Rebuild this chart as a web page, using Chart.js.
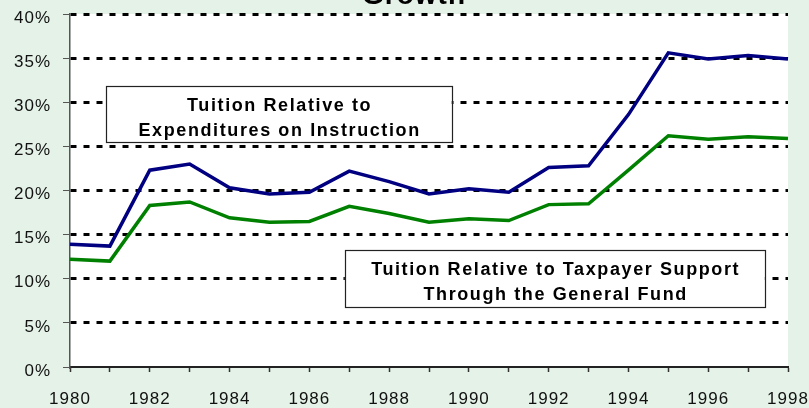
<!DOCTYPE html>
<html>
<head>
<meta charset="utf-8">
<script src="https://cdn.jsdelivr.net/npm/chart.js@4.4.1/dist/chart.umd.min.js"></script>
<style>
  html, body { margin: 0; padding: 0; background: #e4f2e7; }
  #wrap { width: 809px; height: 408px; }
</style>
</head>
<body>
<div id="wrap"><canvas id="c" width="809" height="408"></canvas></div>
<script>
// ---- data ----
const years = ['1980','1981','1982','1983','1984','1985','1986','1987','1988','1989',
               '1990','1991','1992','1993','1994','1995','1996','1997','1998'];
const tuitionVsInstruction = [13.9, 13.7, 22.3, 23.0, 20.3, 19.6, 19.8, 22.2, 21.0, 19.6,
                              20.2, 19.8, 22.6, 22.8, 28.6, 35.6, 34.9, 35.3, 34.9];
const tuitionVsGeneralFund = [12.2, 12.0, 18.3, 18.7, 16.9, 16.4, 16.5, 18.2, 17.4, 16.4,
                              16.8, 16.6, 18.4, 18.5, 22.3, 26.2, 25.8, 26.1, 25.9];
const yMin = 0, yMax = 40, yStep = 5;
const chartTitle = 'Growth';
const labelInstruction = ['Tuition Relative to', 'Expenditures on Instruction'];
const labelGeneralFund = ['Tuition Relative to Taxpayer Support', 'Through the General Fund'];

const FONT = '"Liberation Sans", Arial, sans-serif';

// annotation boxes placed in data coordinates (x = category index, y = percent)
const boxes = [
  { lines: labelInstruction, x0: 0.9, x1: 9.57, y0: 31.85, y1: 25.5 },
  { lines: labelGeneralFund, x0: 6.89, x1: 17.42, y0: 13.3, y1: 6.85 }
];

const backgroundPlugin = {
  id: 'bg',
  beforeDraw(chart) {
    const { ctx, chartArea: a } = chart;
    ctx.save();
    ctx.fillStyle = '#e4f2e7';
    ctx.fillRect(0, 0, chart.width, chart.height);
    ctx.fillStyle = '#ffffff';
    ctx.fillRect(a.left, a.top, a.right - a.left, a.bottom - a.top);
    ctx.restore();
    ctx.letterSpacing = '1px';
  }
};

const annotationPlugin = {
  id: 'boxes',
  afterDatasetsDraw(chart) {
    const { ctx, scales: { x, y } } = chart;
    ctx.save();
    boxes.forEach(b => {
      const l = x.getPixelForValue(b.x0), r = x.getPixelForValue(b.x1);
      const t = y.getPixelForValue(b.y0), bt = y.getPixelForValue(b.y1);
      ctx.fillStyle = '#ffffff';
      ctx.fillRect(l, t, r - l, bt - t);
      ctx.strokeStyle = '#222';
      ctx.lineWidth = 1.2;
      ctx.strokeRect(Math.round(l) + 0.5, Math.round(t) + 0.5, Math.round(r - l), Math.round(bt - t));
      ctx.fillStyle = '#000';
      ctx.font = 'bold 18px ' + FONT;
      ctx.letterSpacing = '1.6px';
      ctx.textAlign = 'center';
      ctx.textBaseline = 'alphabetic';
      const cx = (l + r) / 2 + 0.8;
      ctx.fillText(b.lines[0], cx, t + 25.5);
      ctx.fillText(b.lines[1], cx, t + 50.5);
    });
    ctx.restore();
    ctx.letterSpacing = '1px';
  },
  afterDraw(chart) {
    const { ctx } = chart;
    ctx.save();
    ctx.font = 'bold 28px ' + FONT;
    ctx.letterSpacing = '1px';
    ctx.fillStyle = '#000';
    ctx.textAlign = 'center';
    ctx.textBaseline = 'alphabetic';
    ctx.fillText(chartTitle, 414, 4);
    ctx.restore();
  }
};

new Chart(document.getElementById('c'), {
  type: 'line',
  data: {
    labels: years,
    datasets: [
      { label: labelInstruction.join(' '), data: tuitionVsInstruction,
        borderColor: '#000080', borderWidth: 3.5, pointRadius: 0, tension: 0, fill: false },
      { label: labelGeneralFund.join(' '), data: tuitionVsGeneralFund,
        borderColor: '#008000', borderWidth: 3.5, pointRadius: 0, tension: 0, fill: false }
    ]
  },
  options: {
    responsive: false,
    animation: false,
    events: [],
    layout: { padding: { top: 14, right: 21, left: 0, bottom: 0 } },
    plugins: { legend: { display: false }, title: { display: false }, tooltip: { enabled: false } },
    scales: {
      x: {
        type: 'category',
        offset: false,
        afterFit(s) { s.height = 41; s.paddingLeft = 0; s.paddingRight = 0; },
        grid: { drawOnChartArea: false, drawTicks: true, tickLength: 5, tickColor: '#333', tickWidth: 1.5 },
        border: { display: true, color: '#222', width: 2 },
        ticks: {
          autoSkip: false, maxRotation: 0, minRotation: 0, padding: 17,
          color: '#111', font: { family: FONT, size: 17 },
          callback(v, i) { return i % 2 === 0 ? years[i] : ''; }
        }
      },
      y: {
        min: yMin, max: yMax,
        afterFit(s) { s.width = 70; s.paddingTop = 0; s.paddingBottom = 0; },
        grid: {
          color: c => (c.tick && c.tick.value === 0) ? 'rgba(0,0,0,0)' : '#000',
          lineWidth: 3,
          tickLength: 7, tickColor: '#555', tickWidth: 1, tickBorderDash: []
        },
        border: { display: true, color: '#555', width: 1.5, dash: [6, 7], dashOffset: 0 },
        ticks: {
          stepSize: yStep, padding: 12, labelOffset: 4,
          color: '#111', font: { family: FONT, size: 17 },
          callback: v => v + '%'
        }
      }
    }
  },
  plugins: [backgroundPlugin, annotationPlugin]
});
</script>
</body>
</html>
